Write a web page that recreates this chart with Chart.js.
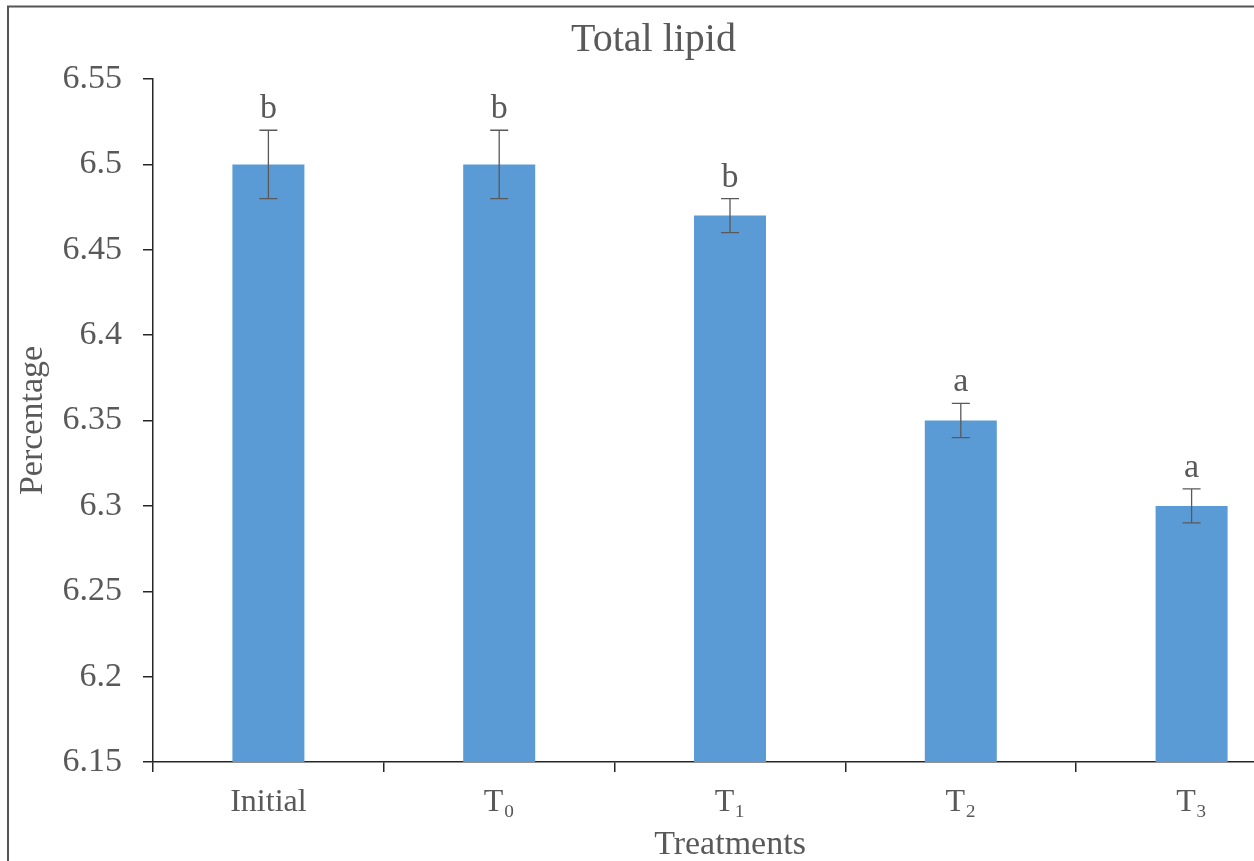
<!DOCTYPE html>
<html>
<head>
<meta charset="utf-8">
<script src="https://cdn.jsdelivr.net/npm/chart.js@4.4.1/dist/chart.umd.min.js"></script>
<style>
  html, body { margin: 0; padding: 0; overflow: hidden; background: #fff; }
  #wrap { position: absolute; left: 0; top: 0; width: 1314px; height: 861px; }
</style>
</head>
<body>
<div id="wrap"><canvas id="lipidChart" width="1314" height="861"></canvas></div>
<script>
const categories = ["Initial", "T\u2080", "T\u2081", "T\u2082", "T\u2083"];
const lipidValues = [6.50, 6.50, 6.47, 6.35, 6.30];
const lipidErrors = [0.02, 0.02, 0.01, 0.01, 0.01];
const sigLetters = ["b", "b", "b", "a", "a"];
const yTicks = [6.15, 6.2, 6.25, 6.3, 6.35, 6.4, 6.45, 6.5, 6.55];
const yTickLabels = ["6.15", "6.2", "6.25", "6.3", "6.35", "6.4", "6.45", "6.5", "6.55"];

const serif = '"Liberation Serif", "Times New Roman", serif';
const textGrey = "#595959";
const axisColor = "#262626";

// frame round the figure, error bars and the letters above them
const extras = {
  id: "extras",
  beforeDraw(chart) {
    const ctx = chart.ctx;
    ctx.save();
    ctx.strokeStyle = "#555";
    ctx.lineWidth = 2;
    ctx.strokeRect(8, 6.5, 3000, 3000);
    ctx.restore();
  },
  afterDatasetsDraw(chart) {
    const ctx = chart.ctx;
    const y = chart.scales.y;
    const meta = chart.getDatasetMeta(0);
    ctx.save();
    meta.data.forEach((bar, i) => {
      const x = bar.x;
      const top = y.getPixelForValue(lipidValues[i] + lipidErrors[i]);
      const bottom = y.getPixelForValue(lipidValues[i] - lipidErrors[i]);
      ctx.strokeStyle = "#595959";
      ctx.lineWidth = 1.3;
      ctx.beginPath();
      ctx.moveTo(x, top); ctx.lineTo(x, bottom);
      ctx.moveTo(x - 9, top); ctx.lineTo(x + 9, top);
      ctx.moveTo(x - 9, bottom); ctx.lineTo(x + 9, bottom);
      ctx.stroke();

      ctx.fillStyle = textGrey;
      ctx.font = "34px " + serif;
      ctx.textAlign = "center";
      ctx.textBaseline = "alphabetic";
      ctx.fillText(sigLetters[i], x, top - 12);
    });
    ctx.restore();
  }
};

new Chart(document.getElementById("lipidChart"), {
  type: "bar",
  data: {
    labels: categories,
    datasets: [{
      data: lipidValues,
      backgroundColor: "#5B9BD5",
      borderWidth: 0,
      categoryPercentage: 1,
      barPercentage: 0.312
    }]
  },
  options: {
    responsive: false,
    animation: false,
    layout: { padding: { left: 0, right: 7, top: 0, bottom: 0 } },
    plugins: {
      legend: { display: false },
      tooltip: { enabled: false },
      title: {
        display: true,
        text: "Total lipid",
        color: textGrey,
        font: { family: serif, size: 40, weight: "normal", lineHeight: 1.2 },
        padding: { top: 16, bottom: 15 }
      }
    },
    scales: {
      x: {
        grid: { offset: true, drawOnChartArea: false, tickLength: 10, color: axisColor, lineWidth: 1.5 },
        border: { display: true, color: axisColor, width: 1.5 },
        ticks: { color: textGrey, padding: 15, font: { family: serif, size: 32, lineHeight: 1 } },
        title: {
          display: true, text: "Treatments", color: textGrey,
          font: { family: serif, size: 34, lineHeight: 1 },
          padding: { top: 0, bottom: -1 }
        },
        afterFit(scale) { scale.height = 99; }
      },
      y: {
        min: 6.15,
        max: 6.55,
        afterBuildTicks(scale) { scale.ticks = yTicks.map(v => ({ value: v })); },
        grid: { drawOnChartArea: false, tickLength: 10, color: axisColor, lineWidth: 1.5 },
        border: { display: true, color: axisColor, width: 1.5 },
        ticks: {
          color: textGrey, padding: 21,
          font: { family: serif, size: 34, lineHeight: 1 },
          callback: (v, i) => yTickLabels[i]
        },
        title: {
          display: true, text: "Percentage", color: textGrey,
          font: { family: serif, size: 34, lineHeight: 1 },
          padding: { top: 16, bottom: 0 }
        },
        afterFit(scale) { scale.width = 153; }
      }
    }
  },
  plugins: [extras]
});
</script>
</body>
</html>
